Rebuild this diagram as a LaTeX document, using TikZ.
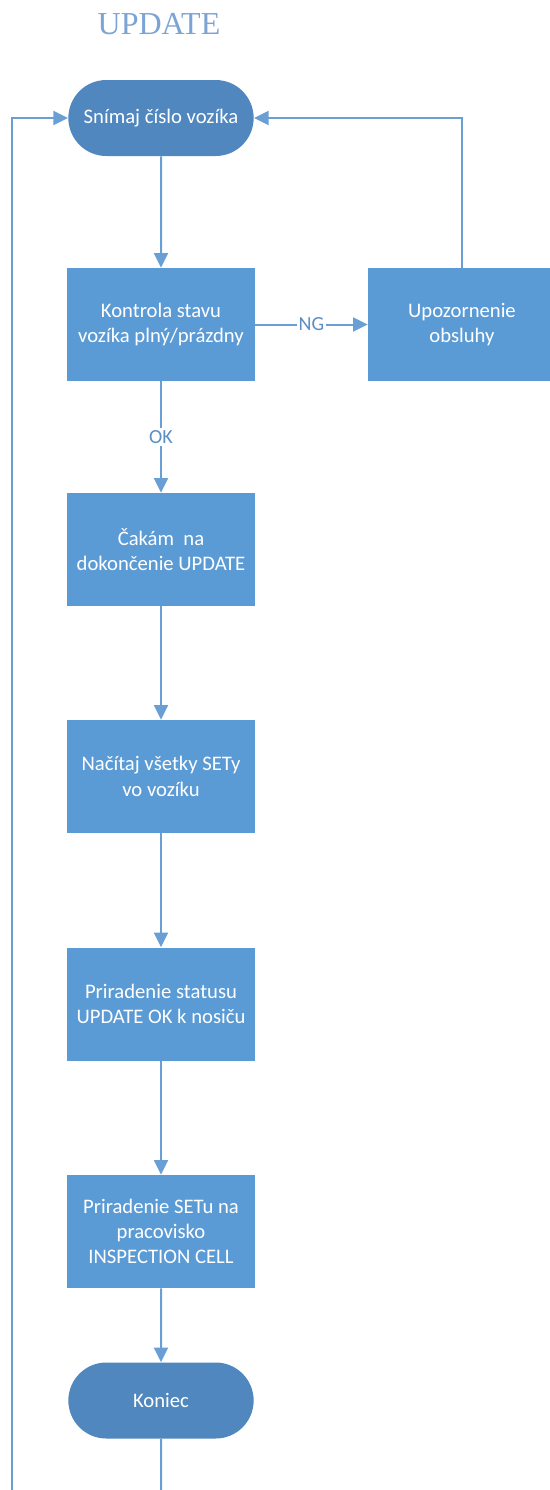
\documentclass[tikz,border=0pt]{standalone}
\usepackage{fontspec}
\setmainfont{Carlito}
\newfontfamily\titlefont{Liberation Serif}
\usetikzlibrary{arrows.meta,shapes.misc}
\definecolor{boxblue}{HTML}{5B9BD5}
\definecolor{termblue}{HTML}{4F87BE}
\definecolor{lineblue}{HTML}{6A9FD6}
\definecolor{labelblue}{HTML}{5B8EC4}
\definecolor{titleblue}{HTML}{7BA4D4}
\begin{document}
\begin{tikzpicture}[x=0.75pt,y=-0.75pt,
  boxfont/.style={font=\fontsize{15.5}{19}\selectfont},
  procbox/.style={rectangle, fill=boxblue, minimum width=141pt, minimum height=84.75pt,
    text=white, align=center, inner sep=2pt, boxfont},
  termbox/.style={rounded rectangle, fill=termblue, minimum width=143pt, minimum height=57pt,
    text=white, align=center, inner sep=2pt, boxfont},
  conn/.style={draw=lineblue, line width=1.5pt, -{Triangle[length=11pt,width=10.5pt]}},
  plainconn/.style={draw=lineblue, line width=1.5pt},
  lbl/.style={fill=white, text=labelblue, inner sep=1.5pt, font=\fontsize{15}{17}\selectfont}]
\useasboundingbox (0,0) rectangle (550,1490);
\clip (0,0) rectangle (550,1490);

\node[text=titleblue, font=\titlefont\fontsize{24}{26}\selectfont] (title) at (159,24) {UPDATE};

\node[termbox] (start) at (161,118) {Snímaj číslo vozíka};
\node[procbox] (kon) at (161,324.5) {Kontrola stavu\\vozíka plný/prázdny};
\node[procbox] (upo) at (462,324.5) {Upozornenie\\obsluhy};
\node[procbox] (cak) at (161,549.5) {Čakám~ na\\dokončenie UPDATE};
\node[procbox] (nac) at (161,776.5) {Načítaj všetky SETy\\vo vozíku};
\node[procbox] (stat) at (161,1004) {Priradenie statusu\\UPDATE OK k nosiču};
\node[procbox] (setu) at (161,1231.5) {Priradenie SETu na\\pracovisko\\INSPECTION CELL};
\node[termbox] (end) at (161,1400.5) {Koniec};

\coordinate (bl) at (12,1490);
\coordinate (bm) at (161,1490);

\draw[conn] (start) -- (kon);
\draw[conn] (kon) -- node[lbl]{NG} (upo);
\draw[conn] (kon) -- node[lbl]{OK} (cak);
\draw[conn] (upo.north) |- (start.east);
\draw[conn] (cak) -- (nac);
\draw[conn] (nac) -- (stat);
\draw[conn] (stat) -- (setu);
\draw[conn] (setu) -- (end);
\draw[conn] (bl) |- (start.west);
\draw[plainconn] (end) -- (bm);
\end{tikzpicture}
\end{document}
